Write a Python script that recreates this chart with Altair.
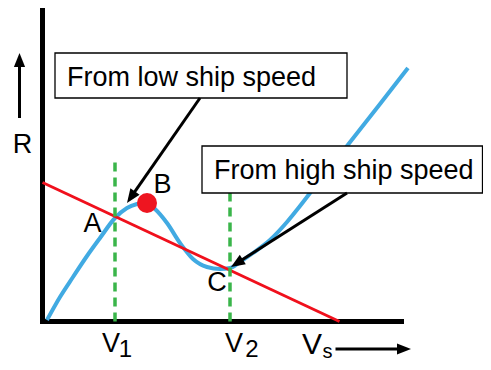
import math
import altair as alt
import pandas as pd

# ---- data (Vs on x, R on y, arbitrary units; origin at the axes' corner) ----
blue_x = [0.45, 1.75, 3.05, 4.45, 5.75, 7.25, 8.45, 9.45, 10.35, 11.25, 12.45, 13.75, 15.05,
          16.45, 17.75, 18.75, 19.75, 21.05, 22.75, 24.45, 25.75, 27.75, 30.45, 33.75, 36.55]
blue_y = [0.15, 2.45, 4.45, 6.55, 8.35, 10.35, 11.35, 11.75, 11.9, 11.25, 9.85, 7.85, 6.25,
          5.45, 5.25, 5.35, 5.95, 6.85, 8.15, 9.95, 11.55, 14.15, 17.55, 21.75, 25.35]
red_x = [0.0, 29.7]
red_y = [13.9, 0.0]
v_lines_x = [7.25, 18.75]
v_lines_top = [16.35, 12.85]
dot_x = [10.45]
dot_y = [11.85]
axis_x0 = [0.0, 0.0]
axis_y0 = [0.0, 0.0]
axis_x1 = [0.0, 35.9]
axis_y1 = [31.1, 0.0]

box_x = [1.25, 15.95]
box_x2 = [30.45, 44.0]
box_y = [22.35, 12.85]
box_y2 = [26.85, 17.55]
box_text = ["From low ship speed", "From high ship speed"]
box_text_x = [2.45, 17.15]
box_text_y = [23.55, 14.25]

lab_text = ["A", "B", "C", "R", "V", "V"]
lab_x = [5.0, 12.0, 17.45, -2.0, 6.85, 19.15]
lab_y = [8.95, 12.85, 3.05, 16.85, -3.05, -3.05]
sub_text = ["1", "2"]
sub_x = [8.3, 20.95]
sub_y = [-3.5, -3.5]
vs_text = ["V"]
vs_x = [26.95]
vs_y = [-3.25]
vs_sub = ["s"]
vs_sub_x = [28.5]
vs_sub_y = [-3.6]

# arrows: start and tip
arr_x0 = [15.75, 30.45, -2.3, 29.3]
arr_y0 = [22.35, 12.85, 20.35, -2.75]
arr_x1 = [8.45, 18.85, -2.3, 36.85]
arr_y1 = [11.85, 5.45, 26.85, -2.75]

# ---- build tables ----
unit_px = 10.0
head_len = 14.0 / unit_px
shafts, heads = [], []
for i, (x0, y0, x1, y1) in enumerate(zip(arr_x0, arr_y0, arr_x1, arr_y1)):
    dx, dy = x1 - x0, y1 - y0
    L = math.hypot(dx, dy)
    ux, uy = dx / L, dy / L
    ang = math.degrees(math.atan2(dx, dy)) % 360
    ex, ey = x1 - ux * head_len * 0.85, y1 - uy * head_len * 0.85
    shafts.append({"id": i, "x": x0, "y": y0, "x2": ex, "y2": ey})
    heads.append({"x": x1 - ux * head_len / 2, "y": y1 - uy * head_len / 2, "angle": ang})

blue = pd.DataFrame({"x": blue_x, "y": blue_y})
red = pd.DataFrame({"x": red_x, "y": red_y})
green = pd.DataFrame({"x": v_lines_x, "y": [0.0, 0.0], "y2": v_lines_top})
dot = pd.DataFrame({"x": dot_x, "y": dot_y})
axes_df = pd.DataFrame({"x": axis_x0, "y": axis_y0, "x2": axis_x1, "y2": axis_y1})
boxes = pd.DataFrame({"x": box_x, "x2": box_x2, "y": box_y, "y2": box_y2})
btext = pd.DataFrame({"t": box_text, "x": box_text_x, "y": box_text_y})
labs = pd.DataFrame({"t": lab_text, "x": lab_x, "y": lab_y})
subs = pd.DataFrame({"t": sub_text, "x": sub_x, "y": sub_y})
vs = pd.DataFrame({"t": vs_text, "x": vs_x, "y": vs_y})
vss = pd.DataFrame({"t": vs_sub, "x": vs_sub_x, "y": vs_sub_y})
shaft_df = pd.DataFrame(shafts)
head_df = pd.DataFrame(heads)

xs = alt.Scale(domain=[-3.45, 44.05], zero=False, nice=False)
ys = alt.Scale(domain=[-4.05, 31.35], zero=False, nice=False)
X = lambda f="x": alt.X(f"{f}:Q", scale=xs, axis=None)
Y = lambda f="y": alt.Y(f"{f}:Q", scale=ys, axis=None)
FONT = "Liberation Sans"

axes_layer = alt.Chart(axes_df).mark_rule(color="black", strokeWidth=5, strokeCap="square").encode(
    x=X(), y=Y(), x2="x2:Q", y2="y2:Q")
blue_layer = alt.Chart(blue).mark_line(color="#41AAE2", strokeWidth=4, interpolate="monotone").encode(
    x=X(), y=Y())
red_layer = alt.Chart(red).mark_line(color="#F0101C", strokeWidth=3).encode(x=X(), y=Y())
green_layer = alt.Chart(green).mark_rule(color="#3AB54A", strokeWidth=3.5, strokeDash=[9, 6]).encode(
    x=X(), y=Y(), y2="y2:Q")
dot_layer = alt.Chart(dot).mark_point(filled=True, color="#EE1520", opacity=1, size=400).encode(
    x=X(), y=Y())
box_layer = alt.Chart(boxes).mark_rect(fill="white", stroke="black", strokeWidth=1.3).encode(
    x=X(), x2="x2:Q", y=Y(), y2="y2:Q")
btext_layer = alt.Chart(btext).mark_text(font=FONT, fontSize=27, align="left", baseline="alphabetic",
                                         color="black").encode(x=X(), y=Y(), text="t:N")
labs_layer = alt.Chart(labs).mark_text(font=FONT, fontSize=27, align="center", baseline="alphabetic",
                                       color="black").encode(x=X(), y=Y(), text="t:N")
subs_layer = alt.Chart(subs).mark_text(font=FONT, fontSize=24, align="center", baseline="alphabetic",
                                       color="black").encode(x=X(), y=Y(), text="t:N")
vs_layer = alt.Chart(vs).mark_text(font=FONT, fontSize=30, align="center", baseline="alphabetic",
                                   color="black").encode(x=X(), y=Y(), text="t:N")
vss_layer = alt.Chart(vss).mark_text(font=FONT, fontSize=20, align="center", baseline="alphabetic",
                                     color="black").encode(x=X(), y=Y(), text="t:N")
shaft_layer = alt.Chart(shaft_df).mark_rule(color="black", strokeWidth=3).encode(
    x=X(), y=Y(), x2="x2:Q", y2="y2:Q")
head_layer = alt.Chart(head_df).mark_point(
    shape="M0,-1L0.8,1L-0.8,1Z", filled=True, color="black", opacity=1, size=196, strokeWidth=0
).encode(x=X(), y=Y(), angle=alt.Angle("angle:Q", scale=None))

chart = alt.layer(
    axes_layer, blue_layer, red_layer, green_layer, dot_layer, box_layer,
    btext_layer, labs_layer, subs_layer, vs_layer, vss_layer, shaft_layer, head_layer
).properties(
    width=475, height=354, padding=0, autosize=alt.AutoSizeParams(type="none"),
    background="white"
).configure_view(stroke=None)

chart.save("out.html", embed_options={"renderer": "svg", "actions": False})
